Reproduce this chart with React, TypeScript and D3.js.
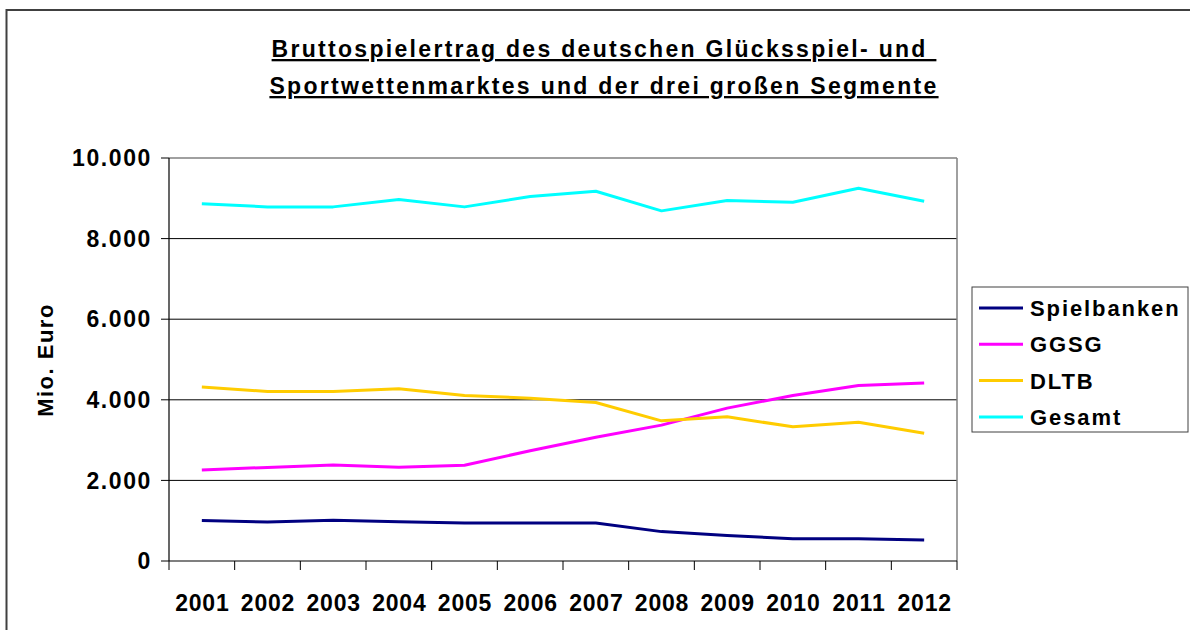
import React from 'react';
import * as d3 from 'd3';

const years = ['2001', '2002', '2003', '2004', '2005', '2006', '2007', '2008', '2009', '2010', '2011', '2012'];
const spielbanken = [1002, 969, 1010, 977, 944, 944, 944, 729, 630, 555, 555, 522];
const ggsg = [2261, 2323, 2385, 2328, 2377, 2735, 3073, 3371, 3793, 4108, 4356, 4414];
const dltb = [4315, 4207, 4207, 4273, 4108, 4041, 3934, 3478, 3578, 3329, 3445, 3172];
const gesamt = [8862, 8787, 8787, 8969, 8787, 9044, 9176, 8688, 8944, 8903, 9251, 8927];
const yTicks = [0, 2000, 4000, 6000, 8000, 10000];
const titleLines = ['Bruttospielertrag des deutschen Glücksspiel- und ', 'Sportwettenmarktes und der drei großen Segmente'];

const series = [
  { name: 'Spielbanken', values: spielbanken, color: '#000080' },
  { name: 'GGSG', values: ggsg, color: '#FF00FF' },
  { name: 'DLTB', values: dltb, color: '#FFCC00' },
  { name: 'Gesamt', values: gesamt, color: '#00FFFF' },
];

const font = '"Liberation Sans", Arial, sans-serif';

export default function App() {
  const left = 169, right = 957, top = 158, bottom = 561;

  const x = d3.scaleBand().domain(years).range([left, right]);
  const y = d3.scaleLinear().domain([0, 10000]).range([bottom, top]);
  const fmt = (v: number) => d3.format(',')(v).replace(/,/g, '.');

  const line = d3.line<number>()
    .x((_, i) => (x(years[i]) as number) + x.bandwidth() / 2)
    .y(d => y(d));

  const boundaries = years.map(yr => x(yr) as number).concat([right]);

  return (
    <svg width={1190} height={630} style={{ position: 'absolute', left: 0, top: 0 }} fontFamily={font}>
      <rect x={0} y={0} width={1190} height={630} fill="#fff" />
      <rect x={6.5} y={10} width={1200} height={640} fill="none" stroke="#404040" strokeWidth={2} />

      {titleLines.map((t, i) => (
        <text key={i} x={604} y={57 + i * 37} textAnchor="middle" fontSize={23} fontWeight="bold"
          letterSpacing={2.3} textDecoration="underline" style={{ whiteSpace: 'pre' }}>{t}</text>
      ))}

      {/* gridlines */}
      {yTicks.filter(v => v > 0 && v < 10000).map(v => (
        <line key={v} x1={left} x2={right} y1={y(v)} y2={y(v)} stroke="#000" strokeWidth={1} />
      ))}
      {/* plot area border */}
      <line x1={left} x2={right} y1={top} y2={top} stroke="#808080" strokeWidth={1.5} />
      <line x1={right} x2={right} y1={top} y2={bottom} stroke="#808080" strokeWidth={1.5} />

      {/* y axis */}
      <line x1={left} x2={left} y1={top} y2={bottom} stroke="#000" strokeWidth={1.2} />
      {yTicks.map(v => (
        <g key={v}>
          <line x1={left - 8} x2={left} y1={y(v)} y2={y(v)} stroke="#000" />
          <text x={152} y={y(v)} dy="0.36em" textAnchor="end" fontSize={23} fontWeight="bold" letterSpacing={1.6}>{fmt(v)}</text>
        </g>
      ))}
      <text transform={`translate(53,${360}) rotate(-90)`} textAnchor="middle" fontSize={22} fontWeight="bold" letterSpacing={1.5}>Mio. Euro</text>

      {/* x axis */}
      <line x1={left} x2={right} y1={bottom} y2={bottom} stroke="#000" strokeWidth={1.2} />
      {boundaries.map((bx, i) => (
        <line key={i} x1={bx} x2={bx} y1={bottom} y2={bottom + 9} stroke="#000" />
      ))}
      {years.map(yr => (
        <text key={yr} x={(x(yr) as number) + x.bandwidth() / 2 + 0.5} y={611} textAnchor="middle" fontSize={23} fontWeight="bold" letterSpacing={0.8}>{yr}</text>
      ))}

      {/* lines */}
      {series.map(s => (
        <path key={s.name} d={line(s.values) || ''} fill="none" stroke={s.color} strokeWidth={3} strokeLinejoin="round" />
      ))}

      {/* legend */}
      <rect x={972} y={287} width={216} height={145} fill="#fff" stroke="#404040" strokeWidth={1} />
      {series.map((s, i) => (
        <g key={s.name} transform={`translate(0,${308 + i * 36.3})`}>
          <line x1={979} x2={1023} y1={0} y2={0} stroke={s.color} strokeWidth={3} />
          <text x={1030} y={0} dy="0.36em" fontSize={22} fontWeight="bold" letterSpacing={1.9}>{s.name}</text>
        </g>
      ))}
    </svg>
  );
}
